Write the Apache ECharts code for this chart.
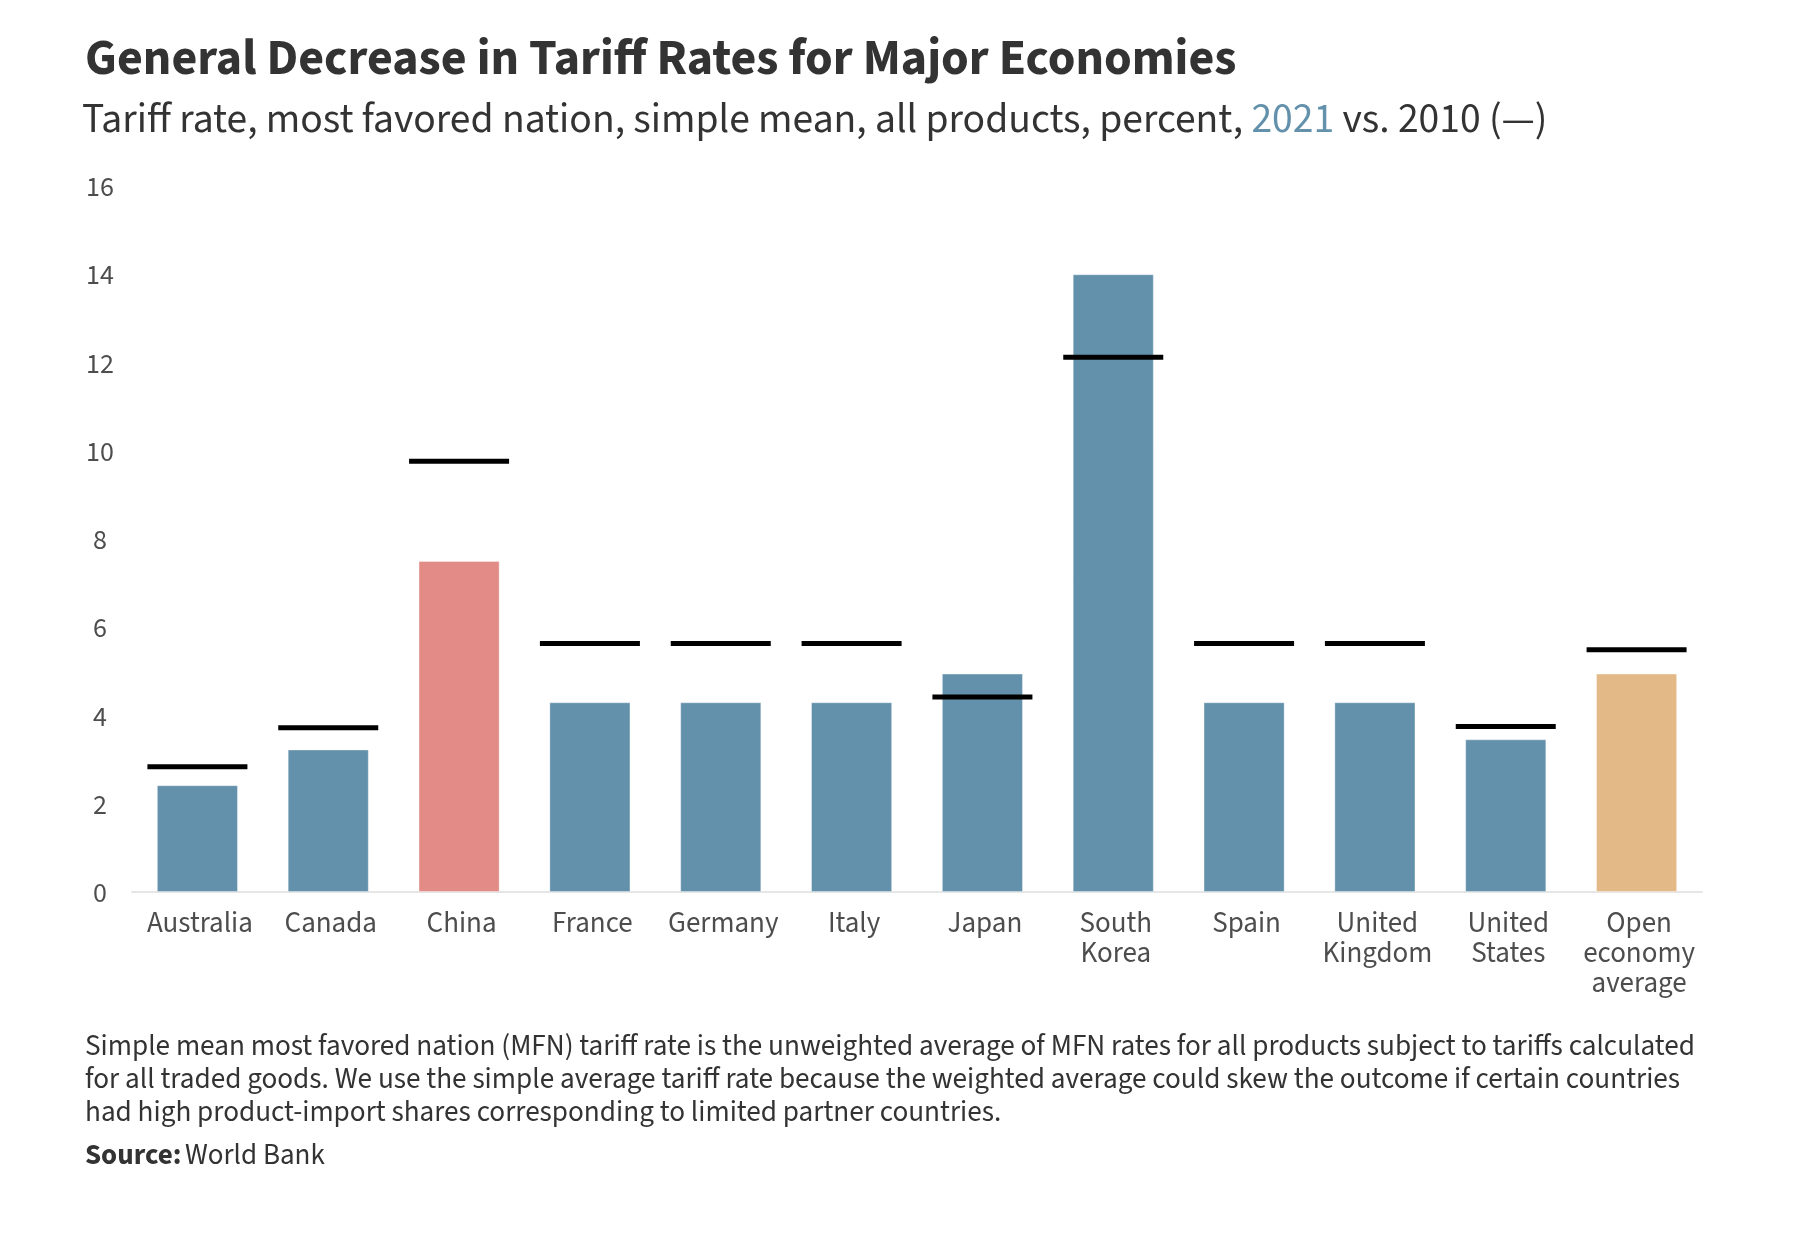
<!DOCTYPE html>
<html>
<head>
<meta charset="utf-8">
<script src="https://cdn.jsdelivr.net/npm/echarts@6/dist/echarts.min.js"></script>
<style>
html,body{margin:0;padding:0;background:#fff;}
#chart{width:1801px;height:1251px;}
</style>
</head>
<body>
<div id="chart"></div>
<script>
const categories = ['Australia', 'Canada', 'China', 'France', 'Germany', 'Italy', 'Japan', 'South\nKorea', 'Spain', 'United\nKingdom', 'United\nStates', 'Open\neconomy\naverage'];
const rate2021 = [2.42, 3.23, 7.5, 4.3, 4.3, 4.3, 4.95, 14.0, 4.3, 4.3, 3.46, 4.95];
const rate2010 = [2.84, 3.72, 9.76, 5.63, 5.63, 5.63, 4.42, 12.12, 5.63, 5.63, 3.75, 5.49];
const barColors = ['#6391ab', '#6391ab', '#e28b87', '#6391ab', '#6391ab', '#6391ab', '#6391ab', '#6391ab', '#6391ab', '#6391ab', '#6391ab', '#e3b987'];
const yTicks = [0, 2, 4, 6, 8, 10, 12, 14, 16];

const FONT = '"Source Sans Pro", "Source Sans 3", Lato, "Noto Sans", sans-serif';
const chart = echarts.init(document.getElementById('chart'), null, {renderer: 'canvas'});
const option = {
  backgroundColor: '#ffffff',
  textStyle: {fontFamily: FONT},
  title: [
    {
      text: 'General Decrease in Tariff Rates for Major Economies',
      left: 80, top: 33,
      textStyle: {fontFamily: FONT, fontSize: 50, fontWeight: 'bold', color: '#333333'}
    },
    {
      text: '{a|Tariff rate, most favored nation, simple mean, all products, percent, }{b|2021}{a| vs. 2010 (—)}',
      left: 77, top: 97,
      textStyle: {
        fontWeight: 'normal',
        rich: {
          a: {fontFamily: FONT, fontSize: 41.6, fontWeight: 'normal', color: '#333333'},
          b: {fontFamily: FONT, fontSize: 41.6, fontWeight: 'normal', color: '#6391ab'}
        }
      }
    },
    {
      text: 'Simple mean most favored nation (MFN) tariff rate is the unweighted average of MFN rates for all products subject to tariffs calculated\nfor all traded goods. We use the simple average tariff rate because the weighted average could skew the outcome if certain countries\nhad high product-import shares corresponding to limited partner countries.',
      left: 80, top: 1027,
      textStyle: {fontFamily: FONT, fontSize: 29.2, lineHeight: 33, color: '#333333', fontWeight: 'normal'}
    },
    {
      text: '{s|Source:} {w|World Bank}',
      left: 80, top: 1138,
      textStyle: {
        fontWeight: 'normal',
        rich: {
          s: {fontFamily: FONT, fontSize: 29, fontWeight: 'bold', color: '#333333'},
          w: {fontFamily: FONT, fontSize: 29, fontWeight: 'normal', color: '#333333'}
        }
      }
    }
  ],
  grid: {left: 132, right: 99, top: 186, bottom: 359, containLabel: false},
  xAxis: {
    type: 'category',
    data: categories,
    axisLine: {show: true, lineStyle: {color: '#e6e6e6', width: 2}},
    axisTick: {show: false},
    axisLabel: {
      interval: 0, color: '#4d4d4d', fontFamily: FONT, fontSize: 29, lineHeight: 30, margin: 19,
      padding: [0, 0, 0, 5]
    }
  },
  yAxis: {
    type: 'value',
    min: 0, max: 16, interval: 2,
    axisLine: {show: false},
    axisTick: {show: false},
    splitLine: {show: false},
    axisLabel: {
      color: '#4d4d4d', fontFamily: FONT, fontSize: 28, margin: 32, align: 'center',
      verticalAlign: 'middle',
      formatter: function (v) { return yTicks.indexOf(v) >= 0 ? '{v|' + v + '}' : ''; },
      rich: {
        v: {fontFamily: FONT, fontSize: 28, color: '#4d4d4d', padding: [8, 0, 0, 0]}
      }
    }
  },
  series: [
    {
      name: '2021',
      type: 'bar',
      barWidth: '62%',
      data: rate2021.map((v, i) => ({value: v, itemStyle: {color: barColors[i]}})),
      itemStyle: {borderColor: 'rgba(255,255,255,0.35)', borderWidth: 1},
      silent: true
    },
    {
      name: '2010',
      type: 'scatter',
      data: rate2010,
      symbol: 'rect',
      symbolSize: [100, 5],
      itemStyle: {color: '#000000', opacity: 1},
      z: 5,
      silent: true
    }
  ]
};
chart.setOption(option);
</script>
</body>
</html>
